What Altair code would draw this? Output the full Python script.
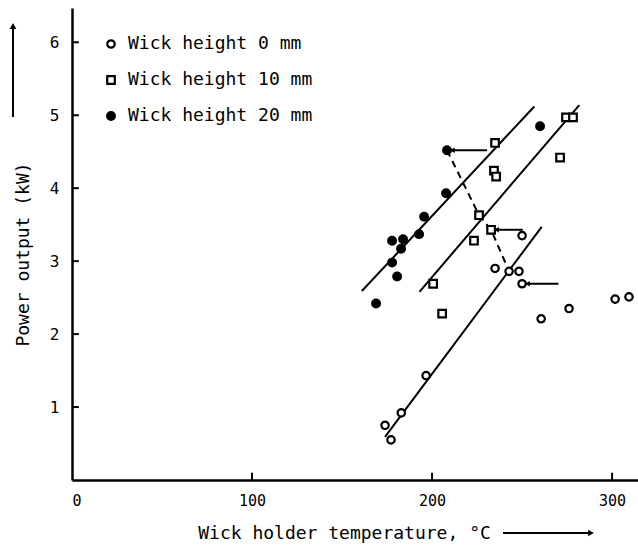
import altair as alt
import pandas as pd

# ---- data ----
series_names = ["Wick height 0 mm", "Wick height 10 mm", "Wick height 20 mm"]

temp0 = [173.9, 177.2, 182.9, 196.7, 235.0, 242.8, 248.3, 250.0, 250.0, 260.6, 276.1, 301.7, 309.4]
power0 = [0.75, 0.55, 0.92, 1.43, 2.90, 2.86, 2.86, 2.69, 3.35, 2.21, 2.35, 2.48, 2.51]

temp10 = [200.6, 205.6, 223.3, 226.1, 232.8, 235.0, 234.4, 235.6, 271.1, 274.4, 278.3]
power10 = [2.69, 2.28, 3.28, 3.63, 3.43, 4.62, 4.24, 4.16, 4.42, 4.97, 4.97]

temp20 = [208.3, 207.8, 195.6, 192.8, 177.8, 183.9, 182.8, 177.8, 180.6, 168.9, 260.0]
power20 = [4.52, 3.93, 3.61, 3.37, 3.28, 3.30, 3.17, 2.98, 2.79, 2.42, 4.85]

# fitted straight lines (end points)
fit0_x = [173.9, 260.9]
fit0_y = [0.59, 3.47]
fit10_x = [193.0, 281.8]
fit10_y = [2.58, 5.14]
fit20_x = [161.0, 256.8]
fit20_y = [2.59, 5.12]

# dashed connecting path
dash_x = [208.3, 226.1, 232.8, 242.8]
dash_y = [4.52, 3.63, 3.43, 2.86]

# horizontal arrows (from right end to left end)
arrow_from = [230.6, 250.4, 270.2]
arrow_to = [208.3, 232.8, 250.0]
arrow_y = [4.52, 3.43, 2.69]

x_tick_values = [100, 200, 300]
x_label_values = [0, 100, 200, 300]
y_tick_values = [1, 2, 3, 4, 5, 6]

# ---- tables ----
pts = pd.concat([
    pd.DataFrame({"x": temp0, "y": power0, "series": series_names[0]}),
    pd.DataFrame({"x": temp10, "y": power10, "series": series_names[1]}),
    pd.DataFrame({"x": temp20, "y": power20, "series": series_names[2]}),
], ignore_index=True)

fits = pd.concat([
    pd.DataFrame({"x": fit0_x, "y": fit0_y, "series": series_names[0]}),
    pd.DataFrame({"x": fit10_x, "y": fit10_y, "series": series_names[1]}),
    pd.DataFrame({"x": fit20_x, "y": fit20_y, "series": series_names[2]}),
], ignore_index=True)

dash = pd.DataFrame({"x": dash_x, "y": dash_y, "o": list(range(len(dash_x)))})
arrows = pd.DataFrame({"x": arrow_from, "x2": arrow_to, "y": arrow_y})
heads = pd.DataFrame({"x": [a + 3.0 for a in arrow_to], "y": arrow_y})
yt = pd.DataFrame({"x": [0] * len(y_tick_values), "x2": [3.8] * len(y_tick_values), "y": y_tick_values})
xt = pd.DataFrame({"x": x_tick_values, "y": [0] * len(x_tick_values), "y2": [0.1] * len(x_tick_values)})

FONT = "DejaVu Sans Mono"
xscale = alt.Scale(domain=[0, 314.4], nice=False, zero=False)
yscale = alt.Scale(domain=[0, 6.47], nice=False, zero=False)
xaxis = alt.Axis(values=x_label_values, tickSize=0, grid=False, labelFont=FONT,
                 labelFontSize=15, labelPadding=13, domainColor="black", domainWidth=2.5,
                 labelColor="black", title="Wick holder temperature, °C", titleFont=FONT,
                 titleFontSize=18, titleFontWeight="normal", titleColor="black",
                 titleX=272, titleY=53, titleAnchor="middle", titleAlign="center",
                 titleBaseline="middle")
yaxis = alt.Axis(values=y_tick_values, tickSize=0, grid=False, labelFont=FONT,
                 labelFontSize=16, labelPadding=13, domainColor="black", domainWidth=2.5,
                 labelColor="black", title="Power output (kW)", titleFont=FONT,
                 titleFontSize=18, titleFontWeight="normal", titleColor="black",
                 titleX=-49, titleY=246, titleAngle=270, titleAlign="center",
                 titleBaseline="middle")

X = alt.X("x:Q", scale=xscale, axis=xaxis)
Y = alt.Y("y:Q", scale=yscale, axis=yaxis)

points = alt.Chart(pts).mark_point(filled=True, stroke="black", strokeWidth=2.2, opacity=1).encode(
    x=X, y=Y,
    shape=alt.Shape("series:N", scale=alt.Scale(domain=series_names, range=["circle", "square", "circle"]),
                    legend=alt.Legend(orient="none", legendX=30, legendY=27, title=None,
                                      labelFont=FONT, labelFontSize=18, labelColor="black",
                                      labelLimit=0,
                                      symbolStrokeColor="black", symbolStrokeWidth=2.2,
                                      rowPadding=18, labelOffset=8)),
    fill=alt.Fill("series:N", scale=alt.Scale(domain=series_names, range=["white", "white", "black"])),
    size=alt.Size("series:N", scale=alt.Scale(domain=series_names, range=[55, 60, 95])),
)

fit_lines = alt.Chart(fits).mark_line(color="black", strokeWidth=2).encode(
    x=X, y=Y, detail="series:N")

dashed = alt.Chart(dash).mark_line(color="black", strokeWidth=2, strokeDash=[7, 5]).encode(
    x=X, y=Y, order="o:Q")

arrow_lines = alt.Chart(arrows).mark_rule(color="black", strokeWidth=2).encode(
    x=X, x2="x2:Q", y=Y)
arrow_heads = alt.Chart(heads).mark_point(shape="triangle-left", filled=True, color="black",
                                          size=30, opacity=1).encode(x=X, y=Y)

y_ticks = alt.Chart(yt).mark_rule(color="black", strokeWidth=2).encode(x=X, x2="x2:Q", y=Y)
x_ticks = alt.Chart(xt).mark_rule(color="black", strokeWidth=2).encode(x=X, y=Y, y2="y2:Q")

# decorative arrows next to axis titles
deco = pd.DataFrame({"k": [0]})
y_arrow = alt.Chart(deco).mark_rule(color="black", strokeWidth=2).encode(
    x=alt.value(-59), y=alt.value(20), y2=alt.value(109))
y_arrow_head = alt.Chart(deco).mark_point(shape="triangle-up", filled=True, color="black",
                                          size=45, opacity=1).encode(x=alt.value(-59), y=alt.value(18))
x_arrow = alt.Chart(deco).mark_rule(color="black", strokeWidth=2).encode(
    x=alt.value(431), x2=alt.value(518), y=alt.value(53 + 472))
x_arrow_head = alt.Chart(deco).mark_point(shape="triangle-right", filled=True, color="black",
                                          size=45, opacity=1).encode(x=alt.value(519), y=alt.value(525))

chart = alt.layer(
    y_ticks, x_ticks, fit_lines, dashed, arrow_lines, arrow_heads, points,
    y_arrow, y_arrow_head, x_arrow, x_arrow_head
).properties(
    width=566, height=472,
    autosize=alt.AutoSizeParams(type="none"),
    padding={"left": 72, "top": 8, "right": 0, "bottom": 70},
    background="white",
).configure_view(stroke=None)

chart.save("out.html", embed_options={"renderer": "svg", "actions": False})
